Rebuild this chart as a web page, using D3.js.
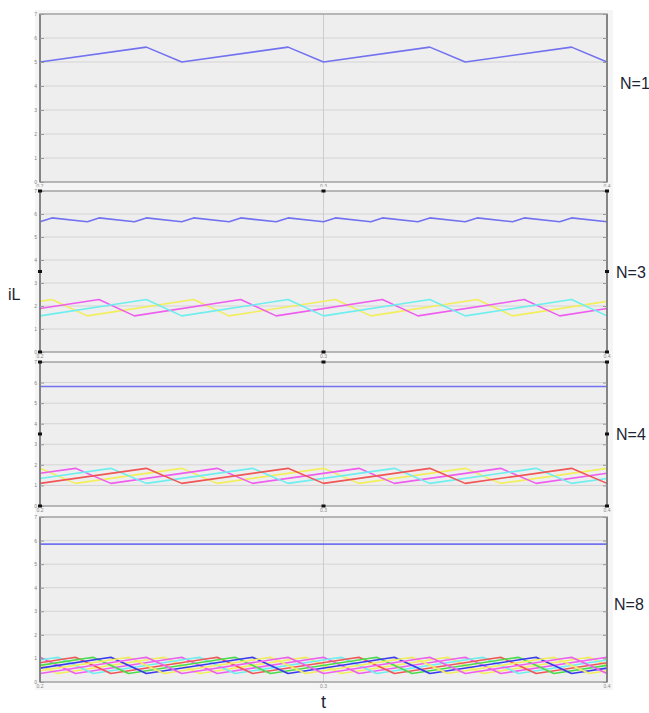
<!DOCTYPE html>
<html>
<head>
<meta charset="utf-8">
<script src="https://cdn.jsdelivr.net/npm/d3@7/dist/d3.min.js"></script>
<style>
  body { margin: 0; background: #fff; }
  svg { display: block; }
</style>
</head>
<body>
<svg id="chart" width="649" height="713"></svg>
<script>
// axis values
const tDomain = [0.2, 0.4];
const xTicks = [0.2, 0.3, 0.4];
const yTicks = [0, 1, 2, 3, 4, 5, 6, 7];
const panelLabels = ['N=1', 'N=3', 'N=4', 'N=8'];

// N=1 : single phase current [t, iL]
const n1Total = [[0.2, 5.0], [0.2375, 5.62], [0.25, 5.0], [0.2875, 5.62], [0.3, 5.0],
  [0.3375, 5.62], [0.35, 5.0], [0.3875, 5.62], [0.4, 5.0]];

// N=3
const n3Total = [[0.2, 5.66], [0.2042, 5.83], [0.2167, 5.66], [0.2208, 5.83], [0.2333, 5.66],
  [0.2375, 5.83], [0.25, 5.66], [0.2542, 5.83], [0.2667, 5.66], [0.2708, 5.83], [0.2833, 5.66],
  [0.2875, 5.83], [0.3, 5.66], [0.3042, 5.83], [0.3167, 5.66], [0.3208, 5.83], [0.3333, 5.66],
  [0.3375, 5.83], [0.35, 5.66], [0.3542, 5.83], [0.3667, 5.66], [0.3708, 5.83], [0.3833, 5.66],
  [0.3875, 5.83], [0.4, 5.66]];
const n3Yellow = [[0.2, 2.20], [0.2042, 2.28], [0.2167, 1.57], [0.2542, 2.28], [0.2667, 1.57],
  [0.3042, 2.28], [0.3167, 1.57], [0.3542, 2.28], [0.3667, 1.57], [0.4, 2.20]];
const n3Magenta = [[0.2, 1.89], [0.2208, 2.28], [0.2333, 1.57], [0.2708, 2.28], [0.2833, 1.57],
  [0.3208, 2.28], [0.3333, 1.57], [0.3708, 2.28], [0.3833, 1.57], [0.4, 1.89]];
const n3Cyan = [[0.2, 1.57], [0.2375, 2.28], [0.25, 1.57], [0.2875, 2.28], [0.3, 1.57],
  [0.3375, 2.28], [0.35, 1.57], [0.3875, 2.28], [0.4, 1.57]];

// N=4
const n4Total = [[0.2, 5.81], [0.4, 5.81]];
const n4Yellow = [[0.2, 1.83], [0.2125, 1.10], [0.25, 1.83], [0.2625, 1.10], [0.3, 1.83],
  [0.3125, 1.10], [0.35, 1.83], [0.3625, 1.10], [0.4, 1.83]];
const n4Magenta = [[0.2, 1.59], [0.2125, 1.83], [0.225, 1.10], [0.2625, 1.83], [0.275, 1.10],
  [0.3125, 1.83], [0.325, 1.10], [0.3625, 1.83], [0.375, 1.10], [0.4, 1.59]];
const n4Cyan = [[0.2, 1.34], [0.225, 1.83], [0.2375, 1.10], [0.275, 1.83], [0.2875, 1.10],
  [0.325, 1.83], [0.3375, 1.10], [0.375, 1.83], [0.3875, 1.10], [0.4, 1.34]];
const n4Red = [[0.2, 1.10], [0.2375, 1.83], [0.25, 1.10], [0.2875, 1.83], [0.3, 1.10],
  [0.3375, 1.83], [0.35, 1.10], [0.3875, 1.83], [0.4, 1.10]];

// N=8
const n8Total = [[0.2, 5.85], [0.4, 5.85]];
const n8Yellow = [[0.2, 0.705], [0.20625, 0.36], [0.24375, 1.05], [0.25625, 0.36], [0.29375, 1.05],
  [0.30625, 0.36], [0.34375, 1.05], [0.35625, 0.36], [0.39375, 1.05], [0.4, 0.705]];
const n8Magenta = [[0.2, 1.05], [0.2125, 0.36], [0.25, 1.05], [0.2625, 0.36], [0.3, 1.05],
  [0.3125, 0.36], [0.35, 1.05], [0.3625, 0.36], [0.4, 1.05]];
const n8Cyan = [[0.2, 0.935], [0.20625, 1.05], [0.21875, 0.36], [0.25625, 1.05], [0.26875, 0.36],
  [0.30625, 1.05], [0.31875, 0.36], [0.35625, 1.05], [0.36875, 0.36], [0.4, 0.935]];
const n8Red = [[0.2, 0.82], [0.2125, 1.05], [0.225, 0.36], [0.2625, 1.05], [0.275, 0.36],
  [0.3125, 1.05], [0.325, 0.36], [0.3625, 1.05], [0.375, 0.36], [0.4, 0.82]];
const n8Green = [[0.2, 0.705], [0.21875, 1.05], [0.23125, 0.36], [0.26875, 1.05], [0.28125, 0.36],
  [0.31875, 1.05], [0.33125, 0.36], [0.36875, 1.05], [0.38125, 0.36], [0.4, 0.705]];
const n8Blue = [[0.2, 0.59], [0.225, 1.05], [0.2375, 0.36], [0.275, 1.05], [0.2875, 0.36],
  [0.325, 1.05], [0.3375, 0.36], [0.375, 1.05], [0.3875, 0.36], [0.4, 0.59]];
const n8Yellow2 = [[0.2, 0.475], [0.23125, 1.05], [0.24375, 0.36], [0.28125, 1.05], [0.29375, 0.36],
  [0.33125, 1.05], [0.34375, 0.36], [0.38125, 1.05], [0.39375, 0.36], [0.4, 0.475]];
const n8Magenta2 = [[0.2, 0.36], [0.2375, 1.05], [0.25, 0.36], [0.2875, 1.05], [0.3, 0.36],
  [0.3375, 1.05], [0.35, 0.36], [0.3875, 1.05], [0.4, 0.36]];

const col = {
  total: '#7272f0', yellow: '#f2ee5c', magenta: '#ee5eee', cyan: '#6eeeee',
  red: '#f05656', green: '#4adc4a', blue: '#3838ec'
};

const panels = [
  { top: 14, bottom: 182, label: panelLabels[0], lx: 620, ly: 89, handles: false,
    series: [[n1Total, col.total]] },
  { top: 191, bottom: 352, label: panelLabels[1], lx: 616, ly: 278, handles: true,
    series: [[n3Yellow, col.yellow], [n3Magenta, col.magenta], [n3Cyan, col.cyan], [n3Total, col.total]] },
  { top: 362, bottom: 506, label: panelLabels[2], lx: 616, ly: 440, handles: true,
    series: [[n4Yellow, col.yellow], [n4Magenta, col.magenta], [n4Cyan, col.cyan], [n4Red, col.red], [n4Total, col.total]] },
  { top: 517, bottom: 682, label: panelLabels[3], lx: 614, ly: 610, handles: false,
    series: [[n8Yellow, col.yellow], [n8Magenta, col.magenta], [n8Cyan, col.cyan], [n8Red, col.red],
      [n8Green, col.green], [n8Blue, col.blue], [n8Yellow2, col.yellow], [n8Magenta2, col.magenta],
      [n8Total, col.total]] }
];

const left = 40, right = 607;
const svg = d3.select('#chart');
const x = d3.scaleLinear().domain(tDomain).range([left, right]);

panels.forEach((p) => {
  const y = d3.scaleLinear().domain([0, 7]).range([p.bottom, p.top]);
  const g = svg.append('g');

  // surrounding scope window
  g.append('rect')
    .attr('x', 35).attr('y', p.top - 4)
    .attr('width', right + 6 - 35).attr('height', p.bottom - p.top + 12)
    .attr('fill', '#f5f5f5');

  g.append('rect')
    .attr('x', left).attr('y', p.top)
    .attr('width', right - left).attr('height', p.bottom - p.top)
    .attr('fill', '#eeeeee');

  // grid
  g.selectAll('.hgrid')
    .data(yTicks.slice(1, -1))
    .enter().append('line')
    .attr('x1', left).attr('x2', right)
    .attr('y1', (d) => y(d)).attr('y2', (d) => y(d))
    .attr('stroke', '#d4d4d4').attr('stroke-width', 1);

  g.append('line')
    .attr('x1', x(0.3)).attr('x2', x(0.3))
    .attr('y1', p.top).attr('y2', p.bottom)
    .attr('stroke', '#cccccc').attr('stroke-width', 1);

  // traces
  const line = d3.line().x((d) => x(d[0])).y((d) => y(d[1]));
  p.series.forEach(([data, c]) => {
    g.append('path')
      .datum(data)
      .attr('d', line)
      .attr('fill', 'none')
      .attr('stroke', c)
      .attr('stroke-width', 1.6)
      .attr('stroke-linejoin', 'round');
  });

  // frame
  g.append('rect')
    .attr('x', left).attr('y', p.top)
    .attr('width', right - left).attr('height', p.bottom - p.top)
    .attr('fill', 'none').attr('stroke', '#a2a2a2').attr('stroke-width', 1.5);
  g.append('line')
    .attr('x1', left).attr('x2', left).attr('y1', p.top).attr('y2', p.bottom)
    .attr('stroke', '#6a6a6a').attr('stroke-width', 1.3);
  g.append('line')
    .attr('x1', right).attr('x2', right).attr('y1', p.top).attr('y2', p.bottom)
    .attr('stroke', '#6a6a6a').attr('stroke-width', 1.3);

  // tick marks and tiny labels
  const yAxisL = d3.axisRight(y).tickValues(yTicks).tickSize(4).tickFormat('');
  g.append('g').attr('transform', `translate(${left},0)`).call(yAxisL)
    .call((a) => a.select('.domain').remove())
    .selectAll('line').attr('stroke', '#999');
  const yAxisR = d3.axisLeft(y).tickValues(yTicks).tickSize(4).tickFormat('');
  g.append('g').attr('transform', `translate(${right},0)`).call(yAxisR)
    .call((a) => a.select('.domain').remove())
    .selectAll('line').attr('stroke', '#999');

  g.selectAll('.ylab')
    .data(yTicks)
    .enter().append('text')
    .attr('x', left - 3).attr('y', (d) => y(d) + 2)
    .attr('text-anchor', 'end')
    .attr('font-family', 'Liberation Sans, Arial, sans-serif')
    .attr('font-size', 5).attr('fill', '#888')
    .text((d) => d);

  g.selectAll('.xlab')
    .data(xTicks)
    .enter().append('text')
    .attr('x', (d) => x(d)).attr('y', p.bottom + 6)
    .attr('text-anchor', 'middle')
    .attr('font-family', 'Liberation Sans, Arial, sans-serif')
    .attr('font-size', 5).attr('fill', '#888')
    .text((d) => d.toFixed(1));

  // selection handles on the pasted picture
  if (p.handles) {
    const ym = (p.top + p.bottom) / 2;
    const pts = [[left, p.top], [x(0.3), p.top], [right, p.top], [left, ym], [right, ym],
      [left, p.bottom], [x(0.3), p.bottom], [right, p.bottom]];
    g.selectAll('.handle')
      .data(pts)
      .enter().append('rect')
      .attr('x', (d) => d[0] - 2).attr('y', (d) => d[1] - 1.5)
      .attr('width', 4).attr('height', 3)
      .attr('fill', '#111');
  }

  g.append('text')
    .attr('x', p.lx).attr('y', p.ly)
    .attr('font-family', 'Liberation Sans, Arial, sans-serif')
    .attr('font-size', 16).attr('fill', '#1c2434')
    .text(p.label);
});

svg.append('text')
  .attr('x', 8).attr('y', 300)
  .attr('font-family', 'Liberation Sans, Arial, sans-serif')
  .attr('font-size', 16).attr('fill', '#1c2434')
  .text('iL');

svg.append('text')
  .attr('x', x(0.3)).attr('y', 708)
  .attr('text-anchor', 'middle')
  .attr('font-family', 'Liberation Sans, Arial, sans-serif')
  .attr('font-size', 18).attr('fill', '#1c2434')
  .text('t');
</script>
</body>
</html>
